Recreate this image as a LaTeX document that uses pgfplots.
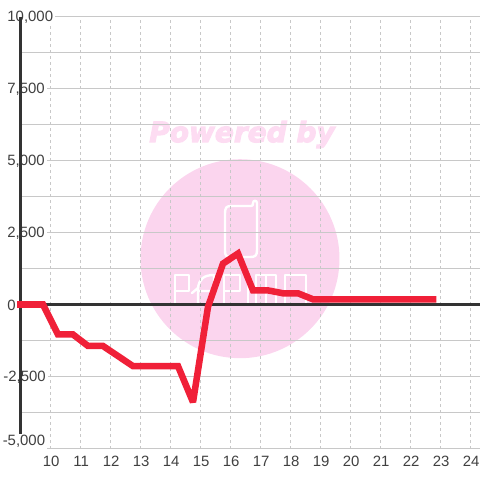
\documentclass[border=0pt]{standalone}
\usepackage{fontspec}
\setmainfont{Liberation Sans}
\newfontfamily\wm{DejaVu Sans}
\usepackage{pgfplots}
\pgfplotsset{compat=1.18}
\definecolor{ink}{HTML}{333333}
\definecolor{txt}{HTML}{404040}
\definecolor{gridc}{HTML}{C8C8C8}
\definecolor{pinkc}{HTML}{FBD5EE}
\definecolor{pinkt}{HTML}{FDDCF2}
\definecolor{redc}{HTML}{F02038}
\pgfdeclarelayer{wm}
\pgfplotsset{layers/mine/.define layer set={wm,axis background,axis grid,axis ticks,axis lines,pre main,main,axis tick labels,axis descriptions,axis foreground}{}}
\begin{document}
\begin{tikzpicture}[x=0.75pt,y=-0.75pt]
\begin{axis}[
  set layers=mine,
  at={(15.375pt,-336.375pt)},anchor=south west,
  scale only axis,width=344.625pt,height=324pt,
  xmin=9,xmax=24.3167,ymin=-5000,ymax=10000,
  clip=false,
  scaled y ticks=false,scaled x ticks=false,
  axis line style={draw=none},
  major tick length=0pt,minor tick length=0pt,
  xtick={10,...,24},
  ytick={0,2500,5000,7500,10000},
  yticklabels={0,{2,500},{5,000},{7,500},{10,000}},
  minor ytick={-3750,-1250,1250,3750,6250,8750},
  extra y ticks={-2500},
  extra y tick labels={-2{,}500},
  extra y tick style={yticklabel style={xshift=-3pt}},
  /pgf/number format/assume math mode=true,
  xmajorgrids,ymajorgrids,yminorgrids,
  x grid style={gridc,line width=0.75pt,dash pattern=on 2.25pt off 2.25pt},
  y grid style={gridc,line width=0.75pt},
  minor y grid style={gridc,line width=0.75pt},
  tick label style={font=\fontsize{11.2}{13}\selectfont,text=txt},
  yticklabel style={anchor=west,xshift=-11.5pt,yshift=-0.4pt,fill=white,inner sep=1.5pt,minimum height=12pt},
  xticklabel style={anchor=center,xshift=0.5pt,yshift=-9.4pt,inner sep=0pt},
]
\addplot[gridc,line width=0.75pt,forget plot] coordinates {(9,-5000) (24.3167,-5000)};
\addplot[ink,line width=2.25pt,forget plot] coordinates {(9,0) (24.3167,0)};
\addplot[ink,line width=2.25pt,forget plot] coordinates {(9,-5000) (9,10000)};
\addplot[redc,line width=4.9pt,line cap=rect,line join=miter,miter limit=3,forget plot] coordinates {
(9,0) (9.75,0) (10.25,-1040) (10.75,-1040) (11.25,-1440) (11.75,-1440) (12.75,-2140) (14.25,-2140) (14.75,-3390) (15.25,-80) (15.75,1420) (16.25,1770) (16.75,490) (17.25,490) (17.75,390) (18.25,390) (18.75,180) (22.75,180)};
\end{axis}
\begin{pgfonlayer}{axis foreground}
\node[fill=white,text=txt,font=\fontsize{11.2}{13}\selectfont,inner sep=1.5pt,minimum height=12pt,anchor=west] at (0.5,441.7) {-5,000};
\end{pgfonlayer}
\begin{pgfonlayer}{wm}
\fill[pinkc] (240,258.7) circle[radius=99.5];
\node[text=pinkt,font={\wm\bfseries\itshape\fontsize{21}{21}\selectfont},inner sep=0pt] at (242,134.5) {\special{pdf:code 2 Tr 0.8 w 0.992 0.863 0.949 RG}Powered by\special{pdf:code 0 Tr}};
\begin{scope}[draw=white,line width=1.8pt,line cap=round,line join=round]
\draw (225,215) .. controls (225,207) and (226,206) .. (232,206) -- (251,206) .. controls (253,206) and (253,205) .. (253,203) .. controls (253,200) and (257,200) .. (257,203) -- (257,250) .. controls (257,256) and (255,257) .. (250,257) -- (232,257) .. controls (226,257) and (225,256) .. (225,250) -- cycle;
\draw (175,304) -- (175,275) -- (189,275) -- (189,291) -- (175,291);
\draw (198,304) -- (198,288) -- (192,293) (198,288) .. controls (199,279) and (204,275) .. (214,275) -- (214,291) -- (198,291);
\draw (224,304) -- (224,275) -- (240,275) -- (240,291) -- (224,291);
\draw (248,275) -- (248,304);
\draw (256,304) -- (256,275) -- (276,275) -- (276,304) (266,275) -- (266,304);
\draw (285,275) -- (306,275) -- (306,304) -- (285,304) -- cycle;
\end{scope}
\end{pgfonlayer}
\pgfresetboundingbox
\useasboundingbox (0,0) rectangle (480,480);
\end{tikzpicture}
\end{document}
